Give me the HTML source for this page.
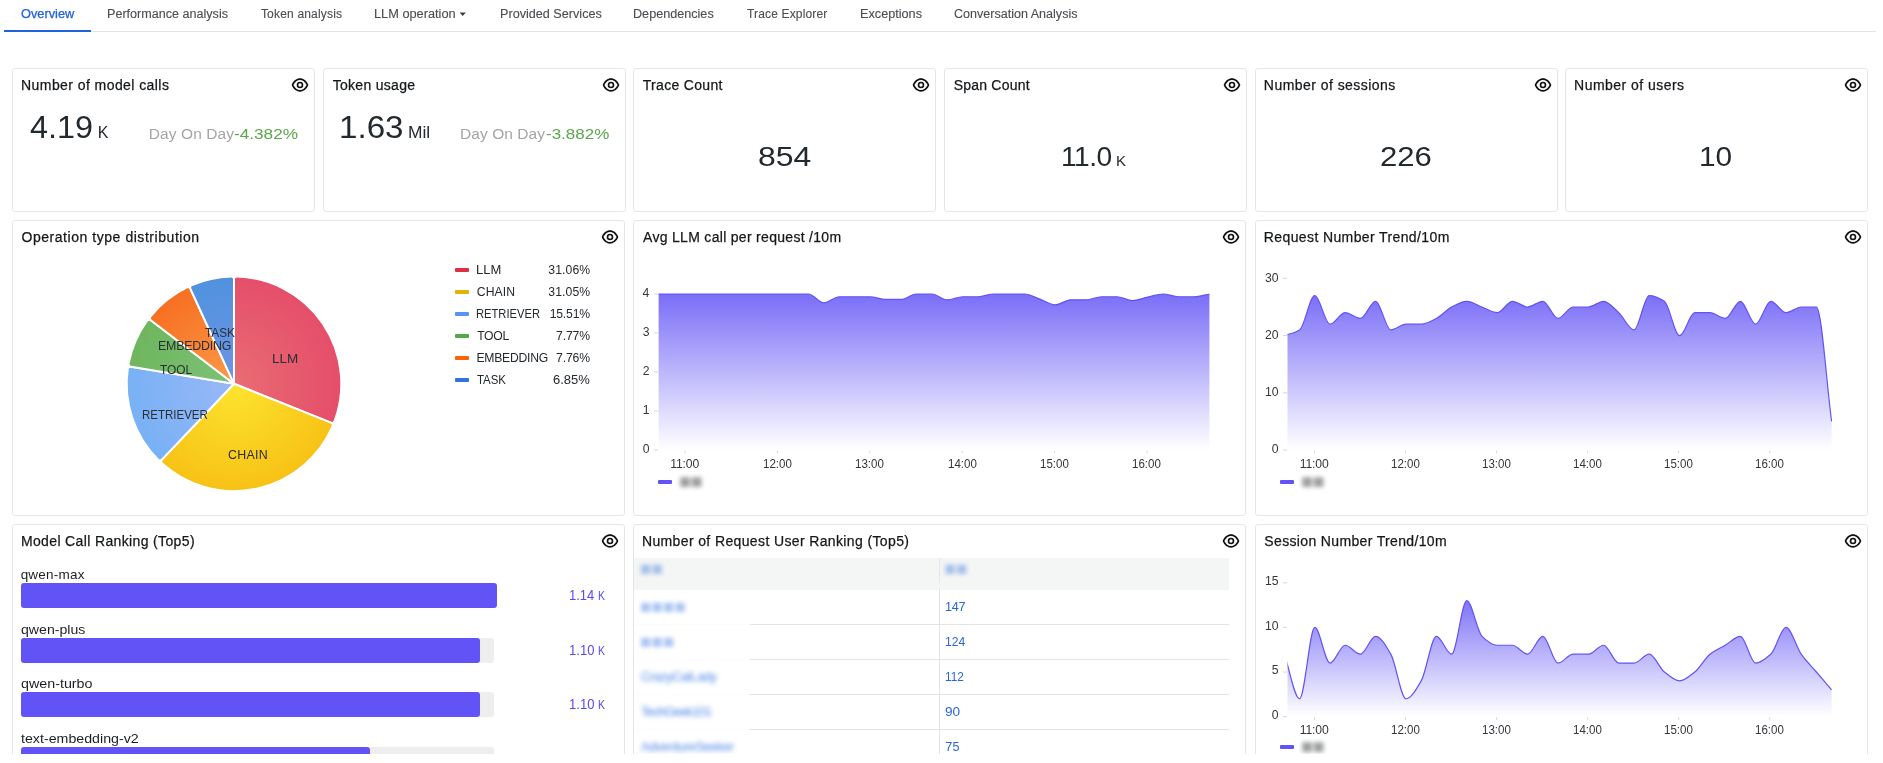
<!DOCTYPE html>
<html><head><meta charset="utf-8"><title>Overview</title>
<style>
html,body{margin:0;padding:0;background:#fff;}
body{width:1883px;height:763px;overflow:hidden;position:relative;font-family:"Liberation Sans",sans-serif;}
#clip{position:absolute;left:0;top:0;width:1883px;height:754px;overflow:hidden;opacity:0.999;}
.t{position:absolute;white-space:nowrap;font-family:"Liberation Sans",sans-serif;}
.panel{position:absolute;box-sizing:border-box;border:1px solid #e6e6e7;border-radius:3px;background:#fff;}
.eye{position:absolute;}
.tabline{position:absolute;left:4px;top:31px;width:1872px;height:1px;background:#e4e4e4;}
.tabactive{position:absolute;left:4px;top:30px;width:87px;height:2px;background:#1f62e0;}
.blur{filter:blur(2px);}
.blur2{filter:blur(2.2px);}
</style></head><body><div id="clip">
<div class="tabline"></div><div class="tabactive"></div>
<span class="t " style="left:20.69px;top:7px;font-size:12px;line-height:14px;color:#1f62e0;transform:scaleX(1.0653);transform-origin:0 0;-webkit-text-stroke:0.25px #1f62e0;">Overview</span>
<span class="t " style="left:106.57px;top:7px;font-size:12px;line-height:14px;color:#4b4e52;transform:scaleX(1.0485);transform-origin:0 0;-webkit-text-stroke:0.12px #4b4e52;">Performance analysis</span>
<span class="t " style="left:260.93px;top:7px;font-size:12px;line-height:14px;color:#4b4e52;letter-spacing:0.184px;-webkit-text-stroke:0.12px #4b4e52;">Token analysis</span>
<span class="t " style="left:374.15px;top:7px;font-size:12px;line-height:14px;color:#4b4e52;transform:scaleX(1.0646);transform-origin:0 0;-webkit-text-stroke:0.12px #4b4e52;">LLM operation</span>
<span class="t " style="left:499.66px;top:7px;font-size:12px;line-height:14px;color:#4b4e52;transform:scaleX(1.0525);transform-origin:0 0;-webkit-text-stroke:0.12px #4b4e52;">Provided Services</span>
<span class="t " style="left:633.46px;top:7px;font-size:12px;line-height:14px;color:#4b4e52;transform:scaleX(1.0517);transform-origin:0 0;-webkit-text-stroke:0.12px #4b4e52;">Dependencies</span>
<span class="t " style="left:747.03px;top:7px;font-size:12px;line-height:14px;color:#4b4e52;letter-spacing:0.155px;-webkit-text-stroke:0.12px #4b4e52;">Trace Explorer</span>
<span class="t " style="left:859.56px;top:7px;font-size:12px;line-height:14px;color:#4b4e52;transform:scaleX(1.0562);transform-origin:0 0;-webkit-text-stroke:0.12px #4b4e52;">Exceptions</span>
<span class="t " style="left:954.06px;top:7px;font-size:12px;line-height:14px;color:#4b4e52;transform:scaleX(1.0460);transform-origin:0 0;-webkit-text-stroke:0.12px #4b4e52;">Conversation Analysis</span>
<svg style="position:absolute;left:458.9px;top:12.4px" width="8" height="5" viewBox="0 0 8 5"><path d="M0.6 0.6h6.2L3.7 4.1z" fill="#3a3d40"/></svg>
<div class="panel" style="left:12px;top:68px;width:303px;height:144px"></div>
<span class="t " style="left:21.05px;top:77px;font-size:14.0px;line-height:16px;color:#15181b;letter-spacing:0.429px;-webkit-text-stroke:0.25px #15181b;">Number of model calls</span>
<svg class="eye" style="left:290px;top:75px" width="20" height="20" viewBox="0 0 24 24"><path fill="#111" d="M21.92,11.6C19.9,6.91,16.1,4,12,4S4.1,6.91,2.08,11.6a1,1,0,0,0,0,.8C4.1,17.09,7.9,20,12,20s7.9-2.91,9.92-7.6A1,1,0,0,0,21.92,11.6ZM12,18c-3.17,0-6.17-2.29-7.9-6C5.83,8.29,8.83,6,12,6s6.17,2.29,7.9,6C18.17,15.71,15.17,18,12,18ZM12,8a4,4,0,1,0,4,4A4,4,0,0,0,12,8Zm0,6a2,2,0,1,1,2-2A2,2,0,0,1,12,14Z"/></svg>
<div class="panel" style="left:323px;top:68px;width:303px;height:144px"></div>
<span class="t " style="left:332.69px;top:77px;font-size:14.0px;line-height:16px;color:#15181b;letter-spacing:0.294px;-webkit-text-stroke:0.25px #15181b;">Token usage</span>
<svg class="eye" style="left:601px;top:75px" width="20" height="20" viewBox="0 0 24 24"><path fill="#111" d="M21.92,11.6C19.9,6.91,16.1,4,12,4S4.1,6.91,2.08,11.6a1,1,0,0,0,0,.8C4.1,17.09,7.9,20,12,20s7.9-2.91,9.92-7.6A1,1,0,0,0,21.92,11.6ZM12,18c-3.17,0-6.17-2.29-7.9-6C5.83,8.29,8.83,6,12,6s6.17,2.29,7.9,6C18.17,15.71,15.17,18,12,18ZM12,8a4,4,0,1,0,4,4A4,4,0,0,0,12,8Zm0,6a2,2,0,1,1,2-2A2,2,0,0,1,12,14Z"/></svg>
<div class="panel" style="left:633px;top:68px;width:303px;height:144px"></div>
<span class="t " style="left:642.69px;top:77px;font-size:14.0px;line-height:16px;color:#15181b;letter-spacing:0.320px;-webkit-text-stroke:0.25px #15181b;">Trace Count</span>
<svg class="eye" style="left:911px;top:75px" width="20" height="20" viewBox="0 0 24 24"><path fill="#111" d="M21.92,11.6C19.9,6.91,16.1,4,12,4S4.1,6.91,2.08,11.6a1,1,0,0,0,0,.8C4.1,17.09,7.9,20,12,20s7.9-2.91,9.92-7.6A1,1,0,0,0,21.92,11.6ZM12,18c-3.17,0-6.17-2.29-7.9-6C5.83,8.29,8.83,6,12,6s6.17,2.29,7.9,6C18.17,15.71,15.17,18,12,18ZM12,8a4,4,0,1,0,4,4A4,4,0,0,0,12,8Zm0,6a2,2,0,1,1,2-2A2,2,0,0,1,12,14Z"/></svg>
<div class="panel" style="left:944px;top:68px;width:303px;height:144px"></div>
<span class="t " style="left:953.66px;top:77px;font-size:14.0px;line-height:16px;color:#15181b;letter-spacing:0.221px;-webkit-text-stroke:0.25px #15181b;">Span Count</span>
<svg class="eye" style="left:1222px;top:75px" width="20" height="20" viewBox="0 0 24 24"><path fill="#111" d="M21.92,11.6C19.9,6.91,16.1,4,12,4S4.1,6.91,2.08,11.6a1,1,0,0,0,0,.8C4.1,17.09,7.9,20,12,20s7.9-2.91,9.92-7.6A1,1,0,0,0,21.92,11.6ZM12,18c-3.17,0-6.17-2.29-7.9-6C5.83,8.29,8.83,6,12,6s6.17,2.29,7.9,6C18.17,15.71,15.17,18,12,18ZM12,8a4,4,0,1,0,4,4A4,4,0,0,0,12,8Zm0,6a2,2,0,1,1,2-2A2,2,0,0,1,12,14Z"/></svg>
<div class="panel" style="left:1255px;top:68px;width:303px;height:144px"></div>
<span class="t " style="left:1263.85px;top:77px;font-size:14.0px;line-height:16px;color:#15181b;letter-spacing:0.455px;-webkit-text-stroke:0.25px #15181b;">Number of sessions</span>
<svg class="eye" style="left:1533px;top:75px" width="20" height="20" viewBox="0 0 24 24"><path fill="#111" d="M21.92,11.6C19.9,6.91,16.1,4,12,4S4.1,6.91,2.08,11.6a1,1,0,0,0,0,.8C4.1,17.09,7.9,20,12,20s7.9-2.91,9.92-7.6A1,1,0,0,0,21.92,11.6ZM12,18c-3.17,0-6.17-2.29-7.9-6C5.83,8.29,8.83,6,12,6s6.17,2.29,7.9,6C18.17,15.71,15.17,18,12,18ZM12,8a4,4,0,1,0,4,4A4,4,0,0,0,12,8Zm0,6a2,2,0,1,1,2-2A2,2,0,0,1,12,14Z"/></svg>
<div class="panel" style="left:1565px;top:68px;width:303px;height:144px"></div>
<span class="t " style="left:1574.05px;top:77px;font-size:14.0px;line-height:16px;color:#15181b;letter-spacing:0.469px;-webkit-text-stroke:0.25px #15181b;">Number of users</span>
<svg class="eye" style="left:1843px;top:75px" width="20" height="20" viewBox="0 0 24 24"><path fill="#111" d="M21.92,11.6C19.9,6.91,16.1,4,12,4S4.1,6.91,2.08,11.6a1,1,0,0,0,0,.8C4.1,17.09,7.9,20,12,20s7.9-2.91,9.92-7.6A1,1,0,0,0,21.92,11.6ZM12,18c-3.17,0-6.17-2.29-7.9-6C5.83,8.29,8.83,6,12,6s6.17,2.29,7.9,6C18.17,15.71,15.17,18,12,18ZM12,8a4,4,0,1,0,4,4A4,4,0,0,0,12,8Zm0,6a2,2,0,1,1,2-2A2,2,0,0,1,12,14Z"/></svg>
<span class="t " style="left:30.16px;top:110px;font-size:31.3px;line-height:35px;color:#24292e;transform:scaleX(1.0354);transform-origin:0 0;">4.19</span>
<span class="t " style="left:97.69px;top:124px;font-size:16px;line-height:17px;color:#24292e;">K</span>
<span class="t " style="left:148.73px;top:125px;font-size:15.5px;line-height:17px;color:#a3a5a7;letter-spacing:0.098px;">Day On Day</span>
<span class="t " style="left:234.44px;top:125px;font-size:15.5px;line-height:17px;color:#5aa64b;transform:scaleX(1.1081);transform-origin:0 0;">-4.382%</span>
<span class="t " style="left:339.38px;top:110px;font-size:31.3px;line-height:35px;color:#24292e;transform:scaleX(1.0584);transform-origin:0 0;">1.63</span>
<span class="t " style="left:408.18px;top:124px;font-size:16px;line-height:17px;color:#24292e;transform:scaleX(1.0855);transform-origin:0 0;">Mil</span>
<span class="t " style="left:460.03px;top:125px;font-size:15.5px;line-height:17px;color:#a3a5a7;letter-spacing:0.065px;">Day On Day</span>
<span class="t " style="left:545.85px;top:125px;font-size:15.5px;line-height:17px;color:#5aa64b;transform:scaleX(1.0957);transform-origin:0 0;">-3.882%</span>
<span class="t " style="left:757.71px;top:140px;font-size:28.2px;line-height:32px;color:#24292e;transform:scaleX(1.1333);transform-origin:0 0;">854</span>
<span class="t " style="left:1061.05px;top:140px;font-size:28.2px;line-height:32px;color:#24292e;letter-spacing:-0.515px;">11.0</span>
<span class="t " style="left:1116.07px;top:152px;font-size:15px;line-height:17px;color:#24292e;">K</span>
<span class="t " style="left:1380.33px;top:140px;font-size:28.2px;line-height:32px;color:#24292e;transform:scaleX(1.1037);transform-origin:0 0;">226</span>
<span class="t " style="left:1698.82px;top:140px;font-size:28.2px;line-height:32px;color:#24292e;transform:scaleX(1.0598);transform-origin:0 0;">10</span>
<div class="panel" style="left:12px;top:220px;width:613px;height:296px"></div>
<span class="t " style="left:21.44px;top:229px;font-size:14.0px;line-height:16px;color:#15181b;letter-spacing:0.548px;-webkit-text-stroke:0.25px #15181b;">Operation type distribution</span>
<svg class="eye" style="left:600px;top:227px" width="20" height="20" viewBox="0 0 24 24"><path fill="#111" d="M21.92,11.6C19.9,6.91,16.1,4,12,4S4.1,6.91,2.08,11.6a1,1,0,0,0,0,.8C4.1,17.09,7.9,20,12,20s7.9-2.91,9.92-7.6A1,1,0,0,0,21.92,11.6ZM12,18c-3.17,0-6.17-2.29-7.9-6C5.83,8.29,8.83,6,12,6s6.17,2.29,7.9,6C18.17,15.71,15.17,18,12,18ZM12,8a4,4,0,1,0,4,4A4,4,0,0,0,12,8Zm0,6a2,2,0,1,1,2-2A2,2,0,0,1,12,14Z"/></svg>
<div class="panel" style="left:633px;top:220px;width:613px;height:296px"></div>
<span class="t " style="left:643.07px;top:229px;font-size:14.0px;line-height:16px;color:#15181b;letter-spacing:0.301px;-webkit-text-stroke:0.25px #15181b;">Avg LLM call per request /10m</span>
<svg class="eye" style="left:1221px;top:227px" width="20" height="20" viewBox="0 0 24 24"><path fill="#111" d="M21.92,11.6C19.9,6.91,16.1,4,12,4S4.1,6.91,2.08,11.6a1,1,0,0,0,0,.8C4.1,17.09,7.9,20,12,20s7.9-2.91,9.92-7.6A1,1,0,0,0,21.92,11.6ZM12,18c-3.17,0-6.17-2.29-7.9-6C5.83,8.29,8.83,6,12,6s6.17,2.29,7.9,6C18.17,15.71,15.17,18,12,18ZM12,8a4,4,0,1,0,4,4A4,4,0,0,0,12,8Zm0,6a2,2,0,1,1,2-2A2,2,0,0,1,12,14Z"/></svg>
<div class="panel" style="left:1255px;top:220px;width:613px;height:296px"></div>
<span class="t " style="left:1263.85px;top:229px;font-size:14.0px;line-height:16px;color:#15181b;letter-spacing:0.384px;-webkit-text-stroke:0.25px #15181b;">Request Number Trend/10m</span>
<svg class="eye" style="left:1843px;top:227px" width="20" height="20" viewBox="0 0 24 24"><path fill="#111" d="M21.92,11.6C19.9,6.91,16.1,4,12,4S4.1,6.91,2.08,11.6a1,1,0,0,0,0,.8C4.1,17.09,7.9,20,12,20s7.9-2.91,9.92-7.6A1,1,0,0,0,21.92,11.6ZM12,18c-3.17,0-6.17-2.29-7.9-6C5.83,8.29,8.83,6,12,6s6.17,2.29,7.9,6C18.17,15.71,15.17,18,12,18ZM12,8a4,4,0,1,0,4,4A4,4,0,0,0,12,8Zm0,6a2,2,0,1,1,2-2A2,2,0,0,1,12,14Z"/></svg>
<div class="panel" style="left:12px;top:524px;width:613px;height:258px"></div>
<span class="t " style="left:20.95px;top:533px;font-size:14.0px;line-height:16px;color:#15181b;letter-spacing:0.360px;-webkit-text-stroke:0.25px #15181b;">Model Call Ranking (Top5)</span>
<svg class="eye" style="left:600px;top:531px" width="20" height="20" viewBox="0 0 24 24"><path fill="#111" d="M21.92,11.6C19.9,6.91,16.1,4,12,4S4.1,6.91,2.08,11.6a1,1,0,0,0,0,.8C4.1,17.09,7.9,20,12,20s7.9-2.91,9.92-7.6A1,1,0,0,0,21.92,11.6ZM12,18c-3.17,0-6.17-2.29-7.9-6C5.83,8.29,8.83,6,12,6s6.17,2.29,7.9,6C18.17,15.71,15.17,18,12,18ZM12,8a4,4,0,1,0,4,4A4,4,0,0,0,12,8Zm0,6a2,2,0,1,1,2-2A2,2,0,0,1,12,14Z"/></svg>
<div class="panel" style="left:633px;top:524px;width:613px;height:258px"></div>
<span class="t " style="left:641.95px;top:533px;font-size:14.0px;line-height:16px;color:#15181b;letter-spacing:0.371px;-webkit-text-stroke:0.25px #15181b;">Number of Request User Ranking (Top5)</span>
<svg class="eye" style="left:1221px;top:531px" width="20" height="20" viewBox="0 0 24 24"><path fill="#111" d="M21.92,11.6C19.9,6.91,16.1,4,12,4S4.1,6.91,2.08,11.6a1,1,0,0,0,0,.8C4.1,17.09,7.9,20,12,20s7.9-2.91,9.92-7.6A1,1,0,0,0,21.92,11.6ZM12,18c-3.17,0-6.17-2.29-7.9-6C5.83,8.29,8.83,6,12,6s6.17,2.29,7.9,6C18.17,15.71,15.17,18,12,18ZM12,8a4,4,0,1,0,4,4A4,4,0,0,0,12,8Zm0,6a2,2,0,1,1,2-2A2,2,0,0,1,12,14Z"/></svg>
<div class="panel" style="left:1255px;top:524px;width:613px;height:258px"></div>
<span class="t " style="left:1264.36px;top:533px;font-size:14.0px;line-height:16px;color:#15181b;letter-spacing:0.346px;-webkit-text-stroke:0.25px #15181b;">Session Number Trend/10m</span>
<svg class="eye" style="left:1843px;top:531px" width="20" height="20" viewBox="0 0 24 24"><path fill="#111" d="M21.92,11.6C19.9,6.91,16.1,4,12,4S4.1,6.91,2.08,11.6a1,1,0,0,0,0,.8C4.1,17.09,7.9,20,12,20s7.9-2.91,9.92-7.6A1,1,0,0,0,21.92,11.6ZM12,18c-3.17,0-6.17-2.29-7.9-6C5.83,8.29,8.83,6,12,6s6.17,2.29,7.9,6C18.17,15.71,15.17,18,12,18ZM12,8a4,4,0,1,0,4,4A4,4,0,0,0,12,8Zm0,6a2,2,0,1,1,2-2A2,2,0,0,1,12,14Z"/></svg>
<svg style="position:absolute;left:0;top:0" width="640" height="520" viewBox="0 0 640 520"><defs><radialGradient id="pg0" gradientUnits="userSpaceOnUse" cx="234" cy="383.8" r="107"><stop offset="0" stop-color="#e96d74"/><stop offset="1" stop-color="#e54e6a"/></radialGradient><radialGradient id="pg1" gradientUnits="userSpaceOnUse" cx="234" cy="383.8" r="107"><stop offset="0" stop-color="#fde42e"/><stop offset="1" stop-color="#f7c216"/></radialGradient><radialGradient id="pg2" gradientUnits="userSpaceOnUse" cx="234" cy="383.8" r="107"><stop offset="0" stop-color="#99b8f7"/><stop offset="1" stop-color="#78b1f5"/></radialGradient><radialGradient id="pg3" gradientUnits="userSpaceOnUse" cx="234" cy="383.8" r="107"><stop offset="0" stop-color="#7bc277"/><stop offset="1" stop-color="#6fb65e"/></radialGradient><radialGradient id="pg4" gradientUnits="userSpaceOnUse" cx="234" cy="383.8" r="107"><stop offset="0" stop-color="#fb9a48"/><stop offset="1" stop-color="#f76f22"/></radialGradient><radialGradient id="pg5" gradientUnits="userSpaceOnUse" cx="234" cy="383.8" r="107"><stop offset="0" stop-color="#6e95e4"/><stop offset="1" stop-color="#5092df"/></radialGradient></defs><path d="M234,383.8L234.00,279.50Q234.00,276.50 237.00,276.54A107.3,107.3 0 0 1 334.69,420.88Q333.62,423.68 330.83,422.56Z" fill="url(#pg0)" stroke="#fff" stroke-width="2" stroke-linejoin="round"/><path d="M234,383.8L330.83,422.56Q333.62,423.68 332.46,426.44A107.3,107.3 0 0 1 162.21,463.55Q160.01,461.51 162.08,459.34Z" fill="url(#pg1)" stroke="#fff" stroke-width="2" stroke-linejoin="round"/><path d="M234,383.8L162.08,459.34Q160.01,461.51 157.87,459.41A107.3,107.3 0 0 1 127.70,369.18Q128.15,366.22 131.11,366.71Z" fill="url(#pg2)" stroke="#fff" stroke-width="2" stroke-linejoin="round"/><path d="M234,383.8L131.11,366.71Q128.15,366.22 128.68,363.26A107.3,107.3 0 0 1 146.98,321.03Q148.76,318.62 151.15,320.44Z" fill="url(#pg3)" stroke="#fff" stroke-width="2" stroke-linejoin="round"/><path d="M234,383.8L151.15,320.44Q148.76,318.62 150.62,316.27A107.3,107.3 0 0 1 186.52,287.58Q189.23,286.29 190.48,289.01Z" fill="url(#pg4)" stroke="#fff" stroke-width="2" stroke-linejoin="round"/><path d="M234,383.8L190.48,289.01Q189.23,286.29 191.97,285.07A107.3,107.3 0 0 1 231.00,276.54Q234.00,276.50 234.00,279.50Z" fill="url(#pg5)" stroke="#fff" stroke-width="2" stroke-linejoin="round"/></svg>
<span class="t " style="left:272.49px;top:352px;font-size:12.4px;line-height:14px;color:#2b2f33;transform:scaleX(1.0865);transform-origin:0 0;">LLM</span>
<span class="t " style="left:227.97px;top:448px;font-size:12.4px;line-height:14px;color:#2b2f33;letter-spacing:0.265px;">CHAIN</span>
<span class="t " style="left:141.66px;top:408px;font-size:12.4px;line-height:14px;color:#2b2f33;transform:scaleX(0.9283);transform-origin:0 0;">RETRIEVER</span>
<span class="t " style="left:160.33px;top:363px;font-size:12.4px;line-height:14px;color:#2b2f33;transform:scaleX(0.9620);transform-origin:0 0;">TOOL</span>
<span class="t " style="left:157.98px;top:339px;font-size:12.4px;line-height:14px;color:#2b2f33;letter-spacing:-0.194px;">EMBEDDING</span>
<span class="t " style="left:205.33px;top:326px;font-size:12.4px;line-height:14px;color:#2b2f33;transform:scaleX(0.9533);transform-origin:0 0;">TASK</span>
<div style="position:absolute;left:455px;top:268px;width:14px;height:4px;border-radius:1px;background:#e02f44"></div>
<span class="t " style="left:476.33px;top:263px;font-size:12.2px;line-height:14px;color:#24292e;transform:scaleX(1.0675);transform-origin:0 0;">LLM</span>
<span class="t " style="left:548.34px;top:263px;font-size:12.2px;line-height:14px;color:#24292e;letter-spacing:0.084px;">31.06%</span>
<div style="position:absolute;left:455px;top:290px;width:14px;height:4px;border-radius:1px;background:#e0b400"></div>
<span class="t " style="left:476.78px;top:285px;font-size:12.2px;line-height:14px;color:#24292e;letter-spacing:0.114px;">CHAIN</span>
<span class="t " style="left:548.34px;top:285px;font-size:12.2px;line-height:14px;color:#24292e;letter-spacing:0.084px;">31.05%</span>
<div style="position:absolute;left:455px;top:312px;width:14px;height:4px;border-radius:1px;background:#5794f2"></div>
<span class="t " style="left:476.48px;top:307px;font-size:12.2px;line-height:14px;color:#24292e;transform:scaleX(0.9171);transform-origin:0 0;">RETRIEVER</span>
<span class="t " style="left:549.67px;top:307px;font-size:12.2px;line-height:14px;color:#24292e;letter-spacing:-0.183px;">15.51%</span>
<div style="position:absolute;left:455px;top:334px;width:14px;height:4px;border-radius:1px;background:#56a64b"></div>
<span class="t " style="left:477.13px;top:329px;font-size:12.2px;line-height:14px;color:#24292e;letter-spacing:-0.306px;">TOOL</span>
<span class="t " style="left:556.07px;top:329px;font-size:12.2px;line-height:14px;color:#24292e;letter-spacing:-0.133px;">7.77%</span>
<div style="position:absolute;left:455px;top:356px;width:14px;height:4px;border-radius:1px;background:#fa6400"></div>
<span class="t " style="left:476.40px;top:351px;font-size:12.2px;line-height:14px;color:#24292e;letter-spacing:-0.247px;">EMBEDDING</span>
<span class="t " style="left:556.07px;top:351px;font-size:12.2px;line-height:14px;color:#24292e;letter-spacing:-0.133px;">7.76%</span>
<div style="position:absolute;left:455px;top:378px;width:14px;height:4px;border-radius:1px;background:#3274d9"></div>
<span class="t " style="left:477.14px;top:373px;font-size:12.2px;line-height:14px;color:#24292e;transform:scaleX(0.9362);transform-origin:0 0;">TASK</span>
<span class="t " style="left:553.24px;top:373px;font-size:12.2px;line-height:14px;color:#24292e;transform:scaleX(1.0674);transform-origin:0 0;">6.85%</span>
<svg style="position:absolute;left:0;top:0;pointer-events:none" width="1883" height="763" viewBox="0 0 1883 763"><defs><linearGradient id="ag1" gradientUnits="userSpaceOnUse" x1="0" y1="278.4" x2="0" y2="450"><stop offset="0" stop-color="#6253f6" stop-opacity="0.93"/><stop offset="1" stop-color="#6253f6" stop-opacity="0"/></linearGradient><clipPath id="ac1"><rect x="658.6" y="268.4" width="551.4" height="183.60000000000002"/></clipPath></defs><g clip-path="url(#ac1)"><path d="M654.30,294.00C659.44,294.00 664.58,294.00 669.72,294.00C674.86,294.00 680.00,294.00 685.14,294.00C690.28,294.00 695.42,294.00 700.56,294.00C705.70,294.00 710.84,294.00 715.98,294.00C721.12,294.00 726.26,294.00 731.40,294.00C736.54,294.00 741.68,294.00 746.82,294.00C751.96,294.00 757.10,294.00 762.24,294.00C767.38,294.00 772.52,294.00 777.66,294.00C782.80,294.00 787.94,294.00 793.08,294.00C798.22,294.00 803.36,294.00 808.50,294.00C813.64,294.00 818.78,302.97 823.92,302.97C829.06,302.97 834.20,296.73 839.34,296.73C844.48,296.73 849.62,296.73 854.76,296.73C859.90,296.73 865.04,296.73 870.18,296.73C875.32,296.73 880.46,299.46 885.60,299.46C890.74,299.46 895.88,299.46 901.02,299.46C906.16,299.46 911.30,294.00 916.44,294.00C921.58,294.00 926.72,294.00 931.86,294.00C937.00,294.00 942.14,299.85 947.28,299.85C952.42,299.85 957.56,296.73 962.70,296.73C967.84,296.73 972.98,296.73 978.12,296.73C983.26,296.73 988.40,294.00 993.54,294.00C998.68,294.00 1003.82,294.00 1008.96,294.00C1014.10,294.00 1019.24,294.00 1024.38,294.00C1029.52,294.00 1034.66,297.26 1039.80,299.07C1044.94,300.88 1050.08,304.92 1055.22,304.92C1060.36,304.92 1065.50,299.85 1070.64,299.85C1075.78,299.85 1080.92,299.85 1086.06,299.85C1091.20,299.85 1096.34,296.73 1101.48,296.73C1106.62,296.73 1111.76,296.73 1116.90,296.73C1122.04,296.73 1127.18,300.63 1132.32,300.63C1137.46,300.63 1142.60,298.22 1147.74,297.12C1152.88,296.02 1158.02,294.00 1163.16,294.00C1168.30,294.00 1173.44,296.73 1178.58,296.73C1183.72,296.73 1188.86,296.73 1194.00,296.73C1199.14,296.73 1204.28,294.91 1209.42,294.00L1209.42,450L654.30,450Z" fill="url(#ag1)"/><path d="M654.30,294.00C659.44,294.00 664.58,294.00 669.72,294.00C674.86,294.00 680.00,294.00 685.14,294.00C690.28,294.00 695.42,294.00 700.56,294.00C705.70,294.00 710.84,294.00 715.98,294.00C721.12,294.00 726.26,294.00 731.40,294.00C736.54,294.00 741.68,294.00 746.82,294.00C751.96,294.00 757.10,294.00 762.24,294.00C767.38,294.00 772.52,294.00 777.66,294.00C782.80,294.00 787.94,294.00 793.08,294.00C798.22,294.00 803.36,294.00 808.50,294.00C813.64,294.00 818.78,302.97 823.92,302.97C829.06,302.97 834.20,296.73 839.34,296.73C844.48,296.73 849.62,296.73 854.76,296.73C859.90,296.73 865.04,296.73 870.18,296.73C875.32,296.73 880.46,299.46 885.60,299.46C890.74,299.46 895.88,299.46 901.02,299.46C906.16,299.46 911.30,294.00 916.44,294.00C921.58,294.00 926.72,294.00 931.86,294.00C937.00,294.00 942.14,299.85 947.28,299.85C952.42,299.85 957.56,296.73 962.70,296.73C967.84,296.73 972.98,296.73 978.12,296.73C983.26,296.73 988.40,294.00 993.54,294.00C998.68,294.00 1003.82,294.00 1008.96,294.00C1014.10,294.00 1019.24,294.00 1024.38,294.00C1029.52,294.00 1034.66,297.26 1039.80,299.07C1044.94,300.88 1050.08,304.92 1055.22,304.92C1060.36,304.92 1065.50,299.85 1070.64,299.85C1075.78,299.85 1080.92,299.85 1086.06,299.85C1091.20,299.85 1096.34,296.73 1101.48,296.73C1106.62,296.73 1111.76,296.73 1116.90,296.73C1122.04,296.73 1127.18,300.63 1132.32,300.63C1137.46,300.63 1142.60,298.22 1147.74,297.12C1152.88,296.02 1158.02,294.00 1163.16,294.00C1168.30,294.00 1173.44,296.73 1178.58,296.73C1183.72,296.73 1188.86,296.73 1194.00,296.73C1199.14,296.73 1204.28,294.91 1209.42,294.00" fill="none" stroke="#6253f6" stroke-width="1.2"/></g><line x1="654.1" x2="658.1" y1="294.0" y2="294.0" stroke="#d5d6d7" stroke-width="1"/><line x1="654.1" x2="658.1" y1="333.0" y2="333.0" stroke="#d5d6d7" stroke-width="1"/><line x1="654.1" x2="658.1" y1="372.0" y2="372.0" stroke="#d5d6d7" stroke-width="1"/><line x1="654.1" x2="658.1" y1="411.0" y2="411.0" stroke="#d5d6d7" stroke-width="1"/><line x1="654.1" x2="658.1" y1="450.0" y2="450.0" stroke="#d5d6d7" stroke-width="1"/><line x1="685.0" x2="685.0" y1="450.5" y2="453.5" stroke="#d9dadb" stroke-width="1"/><line x1="777.4" x2="777.4" y1="450.5" y2="453.5" stroke="#d9dadb" stroke-width="1"/><line x1="869.8" x2="869.8" y1="450.5" y2="453.5" stroke="#d9dadb" stroke-width="1"/><line x1="962.2" x2="962.2" y1="450.5" y2="453.5" stroke="#d9dadb" stroke-width="1"/><line x1="1054.6" x2="1054.6" y1="450.5" y2="453.5" stroke="#d9dadb" stroke-width="1"/><line x1="1147.0" x2="1147.0" y1="450.5" y2="453.5" stroke="#d9dadb" stroke-width="1"/></svg>
<span class="t " style="left:642.57px;top:286px;font-size:12.2px;line-height:14px;color:#33373b;">4</span>
<span class="t " style="left:642.75px;top:325px;font-size:12.2px;line-height:14px;color:#33373b;">3</span>
<span class="t " style="left:642.83px;top:364px;font-size:12.2px;line-height:14px;color:#33373b;">2</span>
<span class="t " style="left:642.81px;top:403px;font-size:12.2px;line-height:14px;color:#33373b;">1</span>
<span class="t " style="left:642.69px;top:442px;font-size:12.2px;line-height:14px;color:#33373b;">0</span>
<span class="t " style="left:670.27px;top:457px;font-size:12.2px;line-height:14px;color:#33373b;letter-spacing:-0.155px;">11:00</span>
<span class="t " style="left:762.72px;top:457px;font-size:12.2px;line-height:14px;color:#33373b;transform:scaleX(0.9477);transform-origin:0 0;">12:00</span>
<span class="t " style="left:855.12px;top:457px;font-size:12.2px;line-height:14px;color:#33373b;transform:scaleX(0.9477);transform-origin:0 0;">13:00</span>
<span class="t " style="left:947.52px;top:457px;font-size:12.2px;line-height:14px;color:#33373b;transform:scaleX(0.9477);transform-origin:0 0;">14:00</span>
<span class="t " style="left:1039.92px;top:457px;font-size:12.2px;line-height:14px;color:#33373b;transform:scaleX(0.9477);transform-origin:0 0;">15:00</span>
<span class="t " style="left:1132.32px;top:457px;font-size:12.2px;line-height:14px;color:#33373b;transform:scaleX(0.9477);transform-origin:0 0;">16:00</span>
<div style="position:absolute;left:658px;top:480px;width:14px;height:4px;border-radius:1px;background:#6253f6"></div>
<span class="t" style="left:679px;top:471px;font-size:20px;line-height:20px;color:rgba(60,64,68,0.5);filter:blur(2.2px);letter-spacing:-0.5px">&#9632;&#9632;</span>
<svg style="position:absolute;left:0;top:0;pointer-events:none" width="1883" height="763" viewBox="0 0 1883 763"><defs><linearGradient id="ag2" gradientUnits="userSpaceOnUse" x1="0" y1="278.4" x2="0" y2="450"><stop offset="0" stop-color="#6253f6" stop-opacity="0.93"/><stop offset="1" stop-color="#6253f6" stop-opacity="0"/></linearGradient><clipPath id="ac2"><rect x="1287.5" y="268.4" width="545.0" height="183.60000000000002"/></clipPath></defs><g clip-path="url(#ac2)"><path d="M1284.40,335.60C1289.47,333.69 1294.53,333.15 1299.60,329.88C1304.67,326.61 1309.73,295.56 1314.80,295.56C1319.87,295.56 1324.93,324.16 1330.00,324.16C1335.07,324.16 1340.13,312.72 1345.20,312.72C1350.27,312.72 1355.33,318.44 1360.40,318.44C1365.47,318.44 1370.53,301.28 1375.60,301.28C1380.67,301.28 1385.73,329.88 1390.80,329.88C1395.87,329.88 1400.93,324.16 1406.00,324.16C1411.07,324.16 1416.13,324.16 1421.20,324.16C1426.27,324.16 1431.33,320.98 1436.40,318.44C1441.47,315.90 1446.53,309.54 1451.60,307.00C1456.67,304.46 1461.73,301.28 1466.80,301.28C1471.87,301.28 1476.93,305.09 1482.00,307.00C1487.07,308.91 1492.13,312.72 1497.20,312.72C1502.27,312.72 1507.33,301.28 1512.40,301.28C1517.47,301.28 1522.53,307.00 1527.60,307.00C1532.67,307.00 1537.73,301.28 1542.80,301.28C1547.87,301.28 1552.93,318.44 1558.00,318.44C1563.07,318.44 1568.13,307.00 1573.20,307.00C1578.27,307.00 1583.33,307.00 1588.40,307.00C1593.47,307.00 1598.53,301.28 1603.60,301.28C1608.67,301.28 1613.73,308.14 1618.80,312.72C1623.87,317.30 1628.93,329.88 1634.00,329.88C1639.07,329.88 1644.13,295.56 1649.20,295.56C1654.27,295.56 1659.33,298.01 1664.40,301.28C1669.47,304.55 1674.53,335.60 1679.60,335.60C1684.67,335.60 1689.73,312.72 1694.80,312.72C1699.87,312.72 1704.93,312.72 1710.00,312.72C1715.07,312.72 1720.13,318.44 1725.20,318.44C1730.27,318.44 1735.33,301.28 1740.40,301.28C1745.47,301.28 1750.53,324.16 1755.60,324.16C1760.67,324.16 1765.73,301.28 1770.80,301.28C1775.87,301.28 1780.93,312.72 1786.00,312.72C1791.07,312.72 1796.13,307.00 1801.20,307.00C1806.27,307.00 1811.33,307.00 1816.40,307.00C1821.47,307.00 1826.53,383.27 1831.60,421.40L1831.60,450L1284.40,450Z" fill="url(#ag2)"/><path d="M1284.40,335.60C1289.47,333.69 1294.53,333.15 1299.60,329.88C1304.67,326.61 1309.73,295.56 1314.80,295.56C1319.87,295.56 1324.93,324.16 1330.00,324.16C1335.07,324.16 1340.13,312.72 1345.20,312.72C1350.27,312.72 1355.33,318.44 1360.40,318.44C1365.47,318.44 1370.53,301.28 1375.60,301.28C1380.67,301.28 1385.73,329.88 1390.80,329.88C1395.87,329.88 1400.93,324.16 1406.00,324.16C1411.07,324.16 1416.13,324.16 1421.20,324.16C1426.27,324.16 1431.33,320.98 1436.40,318.44C1441.47,315.90 1446.53,309.54 1451.60,307.00C1456.67,304.46 1461.73,301.28 1466.80,301.28C1471.87,301.28 1476.93,305.09 1482.00,307.00C1487.07,308.91 1492.13,312.72 1497.20,312.72C1502.27,312.72 1507.33,301.28 1512.40,301.28C1517.47,301.28 1522.53,307.00 1527.60,307.00C1532.67,307.00 1537.73,301.28 1542.80,301.28C1547.87,301.28 1552.93,318.44 1558.00,318.44C1563.07,318.44 1568.13,307.00 1573.20,307.00C1578.27,307.00 1583.33,307.00 1588.40,307.00C1593.47,307.00 1598.53,301.28 1603.60,301.28C1608.67,301.28 1613.73,308.14 1618.80,312.72C1623.87,317.30 1628.93,329.88 1634.00,329.88C1639.07,329.88 1644.13,295.56 1649.20,295.56C1654.27,295.56 1659.33,298.01 1664.40,301.28C1669.47,304.55 1674.53,335.60 1679.60,335.60C1684.67,335.60 1689.73,312.72 1694.80,312.72C1699.87,312.72 1704.93,312.72 1710.00,312.72C1715.07,312.72 1720.13,318.44 1725.20,318.44C1730.27,318.44 1735.33,301.28 1740.40,301.28C1745.47,301.28 1750.53,324.16 1755.60,324.16C1760.67,324.16 1765.73,301.28 1770.80,301.28C1775.87,301.28 1780.93,312.72 1786.00,312.72C1791.07,312.72 1796.13,307.00 1801.20,307.00C1806.27,307.00 1811.33,307.00 1816.40,307.00C1821.47,307.00 1826.53,383.27 1831.60,421.40" fill="none" stroke="#6253f6" stroke-width="1.2"/></g><line x1="1283.0" x2="1287.0" y1="278.4" y2="278.4" stroke="#d5d6d7" stroke-width="1"/><line x1="1283.0" x2="1287.0" y1="335.6" y2="335.6" stroke="#d5d6d7" stroke-width="1"/><line x1="1283.0" x2="1287.0" y1="392.8" y2="392.8" stroke="#d5d6d7" stroke-width="1"/><line x1="1283.0" x2="1287.0" y1="450.0" y2="450.0" stroke="#d5d6d7" stroke-width="1"/><line x1="1314.5" x2="1314.5" y1="450.5" y2="453.5" stroke="#d9dadb" stroke-width="1"/><line x1="1405.5" x2="1405.5" y1="450.5" y2="453.5" stroke="#d9dadb" stroke-width="1"/><line x1="1496.6" x2="1496.6" y1="450.5" y2="453.5" stroke="#d9dadb" stroke-width="1"/><line x1="1587.7" x2="1587.7" y1="450.5" y2="453.5" stroke="#d9dadb" stroke-width="1"/><line x1="1678.7" x2="1678.7" y1="450.5" y2="453.5" stroke="#d9dadb" stroke-width="1"/><line x1="1769.8" x2="1769.8" y1="450.5" y2="453.5" stroke="#d9dadb" stroke-width="1"/></svg>
<span class="t " style="left:1264.91px;top:271px;font-size:12.2px;line-height:14px;color:#33373b;">30</span>
<span class="t " style="left:1264.91px;top:328px;font-size:12.2px;line-height:14px;color:#33373b;">20</span>
<span class="t " style="left:1264.91px;top:385px;font-size:12.2px;line-height:14px;color:#33373b;">10</span>
<span class="t " style="left:1271.69px;top:442px;font-size:12.2px;line-height:14px;color:#33373b;">0</span>
<span class="t " style="left:1299.77px;top:457px;font-size:12.2px;line-height:14px;color:#33373b;letter-spacing:-0.155px;">11:00</span>
<span class="t " style="left:1390.87px;top:457px;font-size:12.2px;line-height:14px;color:#33373b;transform:scaleX(0.9477);transform-origin:0 0;">12:00</span>
<span class="t " style="left:1481.92px;top:457px;font-size:12.2px;line-height:14px;color:#33373b;transform:scaleX(0.9477);transform-origin:0 0;">13:00</span>
<span class="t " style="left:1572.97px;top:457px;font-size:12.2px;line-height:14px;color:#33373b;transform:scaleX(0.9477);transform-origin:0 0;">14:00</span>
<span class="t " style="left:1664.02px;top:457px;font-size:12.2px;line-height:14px;color:#33373b;transform:scaleX(0.9477);transform-origin:0 0;">15:00</span>
<span class="t " style="left:1755.07px;top:457px;font-size:12.2px;line-height:14px;color:#33373b;transform:scaleX(0.9477);transform-origin:0 0;">16:00</span>
<div style="position:absolute;left:1280px;top:480px;width:14px;height:4px;border-radius:1px;background:#6253f6"></div>
<span class="t" style="left:1301px;top:471px;font-size:20px;line-height:20px;color:rgba(60,64,68,0.5);filter:blur(2.2px);letter-spacing:-0.5px">&#9632;&#9632;</span>
<svg style="position:absolute;left:0;top:0;pointer-events:none" width="1883" height="763" viewBox="0 0 1883 763"><defs><linearGradient id="ag3" gradientUnits="userSpaceOnUse" x1="0" y1="582.8" x2="0" y2="716.6"><stop offset="0" stop-color="#6253f6" stop-opacity="0.93"/><stop offset="1" stop-color="#6253f6" stop-opacity="0"/></linearGradient><clipPath id="ac3"><rect x="1287.5" y="572.8" width="545.0" height="145.80000000000007"/></clipPath></defs><g clip-path="url(#ac3)"><path d="M1284.40,654.16C1289.47,669.03 1294.53,698.76 1299.60,698.76C1304.67,698.76 1309.73,627.40 1314.80,627.40C1319.87,627.40 1324.93,663.08 1330.00,663.08C1335.07,663.08 1340.13,645.24 1345.20,645.24C1350.27,645.24 1355.33,654.16 1360.40,654.16C1365.47,654.16 1370.53,636.32 1375.60,636.32C1380.67,636.32 1385.73,645.66 1390.80,654.16C1395.87,662.66 1400.93,698.76 1406.00,698.76C1411.07,698.76 1416.13,689.42 1421.20,680.92C1426.27,672.42 1431.33,636.32 1436.40,636.32C1441.47,636.32 1446.53,654.16 1451.60,654.16C1456.67,654.16 1461.73,600.64 1466.80,600.64C1471.87,600.64 1476.93,631.56 1482.00,636.32C1487.07,641.08 1492.13,645.24 1497.20,645.24C1502.27,645.24 1507.33,645.24 1512.40,645.24C1517.47,645.24 1522.53,654.16 1527.60,654.16C1532.67,654.16 1537.73,636.32 1542.80,636.32C1547.87,636.32 1552.93,663.08 1558.00,663.08C1563.07,663.08 1568.13,654.16 1573.20,654.16C1578.27,654.16 1583.33,654.16 1588.40,654.16C1593.47,654.16 1598.53,645.24 1603.60,645.24C1608.67,645.24 1613.73,663.08 1618.80,663.08C1623.87,663.08 1628.93,663.08 1634.00,663.08C1639.07,663.08 1644.13,654.16 1649.20,654.16C1654.27,654.16 1659.33,668.04 1664.40,672.00C1669.47,675.96 1674.53,680.92 1679.60,680.92C1684.67,680.92 1689.73,675.96 1694.80,672.00C1699.87,668.04 1704.93,658.12 1710.00,654.16C1715.07,650.20 1720.13,648.21 1725.20,645.24C1730.27,642.27 1735.33,636.32 1740.40,636.32C1745.47,636.32 1750.53,663.08 1755.60,663.08C1760.67,663.08 1765.73,658.62 1770.80,654.16C1775.87,649.70 1780.93,627.40 1786.00,627.40C1791.07,627.40 1796.13,647.02 1801.20,654.16C1806.27,661.30 1811.33,666.05 1816.40,672.00C1821.47,677.95 1826.53,683.89 1831.60,689.84L1831.60,716.6L1284.40,716.6Z" fill="url(#ag3)"/><path d="M1284.40,654.16C1289.47,669.03 1294.53,698.76 1299.60,698.76C1304.67,698.76 1309.73,627.40 1314.80,627.40C1319.87,627.40 1324.93,663.08 1330.00,663.08C1335.07,663.08 1340.13,645.24 1345.20,645.24C1350.27,645.24 1355.33,654.16 1360.40,654.16C1365.47,654.16 1370.53,636.32 1375.60,636.32C1380.67,636.32 1385.73,645.66 1390.80,654.16C1395.87,662.66 1400.93,698.76 1406.00,698.76C1411.07,698.76 1416.13,689.42 1421.20,680.92C1426.27,672.42 1431.33,636.32 1436.40,636.32C1441.47,636.32 1446.53,654.16 1451.60,654.16C1456.67,654.16 1461.73,600.64 1466.80,600.64C1471.87,600.64 1476.93,631.56 1482.00,636.32C1487.07,641.08 1492.13,645.24 1497.20,645.24C1502.27,645.24 1507.33,645.24 1512.40,645.24C1517.47,645.24 1522.53,654.16 1527.60,654.16C1532.67,654.16 1537.73,636.32 1542.80,636.32C1547.87,636.32 1552.93,663.08 1558.00,663.08C1563.07,663.08 1568.13,654.16 1573.20,654.16C1578.27,654.16 1583.33,654.16 1588.40,654.16C1593.47,654.16 1598.53,645.24 1603.60,645.24C1608.67,645.24 1613.73,663.08 1618.80,663.08C1623.87,663.08 1628.93,663.08 1634.00,663.08C1639.07,663.08 1644.13,654.16 1649.20,654.16C1654.27,654.16 1659.33,668.04 1664.40,672.00C1669.47,675.96 1674.53,680.92 1679.60,680.92C1684.67,680.92 1689.73,675.96 1694.80,672.00C1699.87,668.04 1704.93,658.12 1710.00,654.16C1715.07,650.20 1720.13,648.21 1725.20,645.24C1730.27,642.27 1735.33,636.32 1740.40,636.32C1745.47,636.32 1750.53,663.08 1755.60,663.08C1760.67,663.08 1765.73,658.62 1770.80,654.16C1775.87,649.70 1780.93,627.40 1786.00,627.40C1791.07,627.40 1796.13,647.02 1801.20,654.16C1806.27,661.30 1811.33,666.05 1816.40,672.00C1821.47,677.95 1826.53,683.89 1831.60,689.84" fill="none" stroke="#6253f6" stroke-width="1.2"/></g><line x1="1283.0" x2="1287.0" y1="582.8" y2="582.8" stroke="#d5d6d7" stroke-width="1"/><line x1="1283.0" x2="1287.0" y1="627.4" y2="627.4" stroke="#d5d6d7" stroke-width="1"/><line x1="1283.0" x2="1287.0" y1="672.0" y2="672.0" stroke="#d5d6d7" stroke-width="1"/><line x1="1283.0" x2="1287.0" y1="716.6" y2="716.6" stroke="#d5d6d7" stroke-width="1"/><line x1="1314.5" x2="1314.5" y1="717.1" y2="720.1" stroke="#d9dadb" stroke-width="1"/><line x1="1405.5" x2="1405.5" y1="717.1" y2="720.1" stroke="#d9dadb" stroke-width="1"/><line x1="1496.6" x2="1496.6" y1="717.1" y2="720.1" stroke="#d9dadb" stroke-width="1"/><line x1="1587.7" x2="1587.7" y1="717.1" y2="720.1" stroke="#d9dadb" stroke-width="1"/><line x1="1678.7" x2="1678.7" y1="717.1" y2="720.1" stroke="#d9dadb" stroke-width="1"/><line x1="1769.8" x2="1769.8" y1="717.1" y2="720.1" stroke="#d9dadb" stroke-width="1"/></svg>
<span class="t " style="left:1264.94px;top:574px;font-size:12.2px;line-height:14px;color:#33373b;">15</span>
<span class="t " style="left:1264.91px;top:619px;font-size:12.2px;line-height:14px;color:#33373b;">10</span>
<span class="t " style="left:1271.73px;top:663px;font-size:12.2px;line-height:14px;color:#33373b;">5</span>
<span class="t " style="left:1271.69px;top:708px;font-size:12.2px;line-height:14px;color:#33373b;">0</span>
<span class="t " style="left:1299.77px;top:723px;font-size:12.2px;line-height:14px;color:#33373b;letter-spacing:-0.155px;">11:00</span>
<span class="t " style="left:1390.87px;top:723px;font-size:12.2px;line-height:14px;color:#33373b;transform:scaleX(0.9477);transform-origin:0 0;">12:00</span>
<span class="t " style="left:1481.92px;top:723px;font-size:12.2px;line-height:14px;color:#33373b;transform:scaleX(0.9477);transform-origin:0 0;">13:00</span>
<span class="t " style="left:1572.97px;top:723px;font-size:12.2px;line-height:14px;color:#33373b;transform:scaleX(0.9477);transform-origin:0 0;">14:00</span>
<span class="t " style="left:1664.02px;top:723px;font-size:12.2px;line-height:14px;color:#33373b;transform:scaleX(0.9477);transform-origin:0 0;">15:00</span>
<span class="t " style="left:1755.07px;top:723px;font-size:12.2px;line-height:14px;color:#33373b;transform:scaleX(0.9477);transform-origin:0 0;">16:00</span>
<div style="position:absolute;left:1280px;top:745px;width:14px;height:4px;border-radius:1px;background:#6253f6"></div>
<span class="t" style="left:1301px;top:736px;font-size:20px;line-height:20px;color:rgba(60,64,68,0.5);filter:blur(2.2px);letter-spacing:-0.5px">&#9632;&#9632;</span>
<span class="t " style="left:20.63px;top:567px;font-size:13.5px;line-height:15px;color:#1b1f23;letter-spacing:0.234px;">qwen-max</span>
<div style="position:absolute;left:21px;top:582.9px;width:472.9px;height:24.8px;border-radius:3px;background:#eeeeee"></div>
<div style="position:absolute;left:21px;top:582.9px;width:475.8px;height:24.8px;border-radius:3px;background:#6253f6"></div>
<span class="t " style="left:568.91px;top:587px;font-size:14.1px;line-height:16px;color:#5a4af6;transform:scaleX(0.9208);transform-origin:0 0;">1.14</span>
<span class="t " style="left:597.57px;top:589px;font-size:12.5px;line-height:14px;color:#5a4af6;transform:scaleX(0.84);transform-origin:0 0;">K</span>
<span class="t " style="left:20.61px;top:622px;font-size:13.5px;line-height:15px;color:#1b1f23;transform:scaleX(1.0449);transform-origin:0 0;">qwen-plus</span>
<div style="position:absolute;left:21px;top:638.0px;width:472.9px;height:24.8px;border-radius:3px;background:#eeeeee"></div>
<div style="position:absolute;left:21px;top:638.0px;width:459.1px;height:24.8px;border-radius:3px;background:#6253f6"></div>
<span class="t " style="left:568.91px;top:642px;font-size:14.1px;line-height:16px;color:#5a4af6;transform:scaleX(0.9257);transform-origin:0 0;">1.10</span>
<span class="t " style="left:597.57px;top:644px;font-size:12.5px;line-height:14px;color:#5a4af6;transform:scaleX(0.84);transform-origin:0 0;">K</span>
<span class="t " style="left:20.60px;top:676px;font-size:13.5px;line-height:15px;color:#1b1f23;transform:scaleX(1.0586);transform-origin:0 0;">qwen-turbo</span>
<div style="position:absolute;left:21px;top:692.1px;width:472.9px;height:24.8px;border-radius:3px;background:#eeeeee"></div>
<div style="position:absolute;left:21px;top:692.1px;width:459.1px;height:24.8px;border-radius:3px;background:#6253f6"></div>
<span class="t " style="left:568.91px;top:696px;font-size:14.1px;line-height:16px;color:#5a4af6;transform:scaleX(0.9257);transform-origin:0 0;">1.10</span>
<span class="t " style="left:597.57px;top:698px;font-size:12.5px;line-height:14px;color:#5a4af6;transform:scaleX(0.84);transform-origin:0 0;">K</span>
<span class="t " style="left:20.98px;top:731px;font-size:13.5px;line-height:15px;color:#1b1f23;transform:scaleX(1.0529);transform-origin:0 0;">text-embedding-v2</span>
<div style="position:absolute;left:21px;top:747.0px;width:472.9px;height:24.8px;border-radius:3px;background:#eeeeee"></div>
<div style="position:absolute;left:21px;top:747.0px;width:349.0px;height:24.8px;border-radius:3px;background:#6253f6"></div>
<div style="position:absolute;left:634px;top:557.5px;width:595px;height:32.2px;background:#f4f5f5"></div>
<div style="position:absolute;left:634px;top:623.9px;width:595px;height:1px;background:#e3e3e4"></div>
<div style="position:absolute;left:634px;top:659.0px;width:595px;height:1px;background:#e3e3e4"></div>
<div style="position:absolute;left:634px;top:694.1px;width:595px;height:1px;background:#e3e3e4"></div>
<div style="position:absolute;left:634px;top:729.2px;width:595px;height:1px;background:#e3e3e4"></div>
<div style="position:absolute;left:634px;top:764.3px;width:595px;height:1px;background:#e3e3e4"></div>
<div style="position:absolute;left:939px;top:589.3px;width:1px;height:200px;background:#e3e3e4"></div>
<div style="position:absolute;left:939px;top:558px;width:1px;height:25px;background:#e6e7e7"></div>
<div style="position:absolute;left:634px;top:589.5px;width:116px;height:200px;background:rgba(255,255,255,0.88)"></div>
<span class="t " style="left:944.94px;top:600px;font-size:12.6px;line-height:14px;color:#2a66d4;letter-spacing:-0.215px;">147</span>
<span class="t " style="left:944.97px;top:635px;font-size:12.6px;line-height:14px;color:#2a66d4;transform:scaleX(0.9647);transform-origin:0 0;">124</span>
<span class="t " style="left:945.00px;top:670px;font-size:12.6px;line-height:14px;color:#2a66d4;transform:scaleX(0.9354);transform-origin:0 0;">112</span>
<span class="t " style="left:945.26px;top:705px;font-size:12.6px;line-height:14px;color:#2a66d4;transform:scaleX(1.0825);transform-origin:0 0;">90</span>
<span class="t " style="left:945.25px;top:740px;font-size:12.6px;line-height:14px;color:#2a66d4;letter-spacing:0.160px;">75</span>
<span class="t" style="left:640px;top:597px;font-size:19px;line-height:19px;color:rgba(58,120,224,0.42);filter:blur(2.2px);letter-spacing:0px">&#9632;&#9632;&#9632;&#9632;</span>
<span class="t" style="left:640px;top:632.1px;font-size:19px;line-height:19px;color:rgba(58,120,224,0.42);filter:blur(2.2px);letter-spacing:0px">&#9632;&#9632;&#9632;</span>
<span class="t" style="left:641px;top:668.5px;font-size:13px;line-height:16px;color:#5288e6;filter:blur(2.7px);letter-spacing:-0.579px;">CrazyCatLady</span>
<span class="t" style="left:641px;top:703.5999999999999px;font-size:13px;line-height:16px;color:#5288e6;filter:blur(2.7px);letter-spacing:-0.922px;">TechGeek101</span>
<span class="t" style="left:641px;top:738.6999999999999px;font-size:13px;line-height:16px;color:#5288e6;filter:blur(2.7px);letter-spacing:-0.533px;">AdventureSeeker</span>
<span class="t" style="left:640px;top:559px;font-size:19px;line-height:19px;color:rgba(58,120,224,0.42);filter:blur(2.2px);letter-spacing:0px">&#9632;&#9632;</span>
<span class="t" style="left:944.5px;top:559px;font-size:19px;line-height:19px;color:rgba(58,120,224,0.42);filter:blur(2.2px);letter-spacing:0px">&#9632;&#9632;</span>
</div></body></html>
